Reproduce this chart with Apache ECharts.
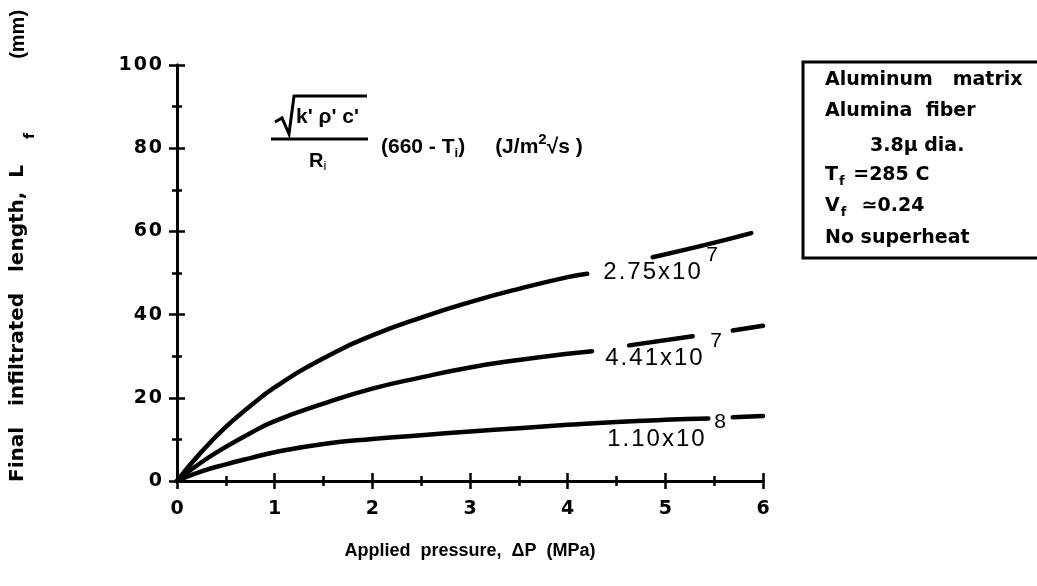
<!DOCTYPE html>
<html>
<head>
<meta charset="utf-8">
<script src="https://cdn.jsdelivr.net/npm/echarts@6/dist/echarts.min.js"></script>
<style>
  html, body { margin: 0; padding: 0; background: #fff; }
  #chart { width: 1037px; height: 586px; }
</style>
</head>
<body>
<div id="chart"></div>
<script>
// curves: [pressure MPa, length mm]
const curve275a = [[0,0],[0.25,7],[0.5,13],[0.75,18],[1,22.5],[1.5,29.5],[2,35],[2.5,39.3],[3,43],[3.5,46.2],[4,49],[4.2,49.8]];
const curve275b = [[4.87,53.8],[5.4,56.7],[5.88,59.6]];
const curve441a = [[0,0],[0.25,4.5],[0.5,8.2],[0.75,11.5],[1,14.4],[1.5,18.6],[2,22.2],[2.5,24.9],[3,27.3],[3.5,29.1],[4,30.6],[4.25,31.2]];
const curve441b = [[4.63,32.6],[5.28,34.8]];
const curve441c = [[5.69,36.2],[6.0,37.3]];
const curve110a = [[0,0],[0.25,2.3],[0.5,4.0],[0.75,5.5],[1,6.9],[1.5,8.9],[2,10.1],[2.5,11.0],[3,11.9],[3.5,12.7],[4,13.5],[4.5,14.2],[5,14.7],[5.44,15.0]];
const curve110b = [[5.69,15.3],[6.0,15.6]];

const curveLabels = ['2.75x10', '4.41x10', '1.10x10'];
const curveExps = ['7', '7', '8'];
const labelAnchors = [[4.365, 50.2], [4.385, 29.5], [4.405, 10.1]];

const legendLines = [
  '{t|Aluminum   matrix}',
  '{t|Alumina  fiber}',
  '{t|3.8\u00b5 dia.}',
  '{t|T}{s|f}{t| =285 C}',
  '{t|V}{s|f}{t|  \u22430.24}',
  '{t|No superheat}'
];

const hair = s => String(s).split('').join('\u200a');

const chart = echarts.init(document.getElementById('chart'));

const lineSeries = (data) => ({
  type: 'line',
  data: data,
  smooth: 0.5,
  showSymbol: false,
  symbol: 'none',
  lineStyle: { color: '#000', width: 4.5, cap: 'round', join: 'round' },
  silent: true
});

const sans = 'Liberation Sans';
const wide = 'DejaVu Sans';

const tickAxis = {
  axisLine: { show: true, lineStyle: { color: '#000', width: 3 } },
  axisTick: { show: true, inside: true, length: 8, lineStyle: { color: '#000', width: 2.5 } },
  minorTick: { show: true, splitNumber: 2, length: 5, lineStyle: { color: '#000', width: 2.5 } },
  splitLine: { show: false }
};

chart.setOption({
  animation: false,
  backgroundColor: '#fff',
  grid: { left: 177, right: 274, top: 65, bottom: 105 },
  xAxis: [
    Object.assign({
      type: 'value', min: 0, max: 6, interval: 1, position: 'bottom',
      axisLabel: { color: '#000', fontFamily: wide, fontWeight: 'bold', fontSize: 19, margin: 19 },
      name: 'Applied  pressure,  \u0394P  (MPa)',
      nameLocation: 'middle', nameGap: 61,
      nameTextStyle: { color: '#000', fontFamily: sans, fontWeight: 'bold', fontSize: 18 }
    }, tickAxis),
    Object.assign({
      type: 'value', min: 0, max: 6, interval: 1, position: 'top',
      axisLabel: { show: false }
    }, tickAxis)
  ],
  yAxis: [
    Object.assign({
      type: 'value', min: 0, max: 100, interval: 20, position: 'left',
      axisLabel: { color: '#000', fontFamily: wide, fontWeight: 'bold', fontSize: 19, margin: 15,
        formatter: v => hair(v) }
    }, tickAxis),
    Object.assign({
      type: 'value', min: 0, max: 100, interval: 20, position: 'right',
      axisLabel: { show: false }
    }, tickAxis)
  ],
  series: [curve275a, curve275b, curve441a, curve441b, curve441c, curve110a, curve110b].map(lineSeries)
});

// curve labels placed via data coordinates
const labelEls = [];
labelAnchors.forEach((p, i) => {
  const px = chart.convertToPixel({ xAxisIndex: 0, yAxisIndex: 0 }, p);
  labelEls.push({
    type: 'text', x: px[0], y: px[1],
    style: { text: hair(curveLabels[i]), fontFamily: sans, fontSize: 24, fill: '#000',
      align: 'left', verticalAlign: 'middle' }
  });
  labelEls.push({
    type: 'text', x: px[0] + 103 + i * 2, y: px[1] - 17,
    style: { text: curveExps[i], fontFamily: sans, fontSize: 21, fill: '#000',
      align: 'left', verticalAlign: 'middle' }
  });
});

const legendY = [80, 111, 146, 175, 206, 238];

chart.setOption({
  graphic: labelEls.concat([
    // y axis title, reading upwards
    { type: 'text', x: 18, y: 482, rotation: Math.PI / 2,
      style: { text: '{a|Final   infiltrated   length,  L}{b|f}{c|(mm)}', align: 'left', verticalAlign: 'middle',
        rich: {
          a: { fontFamily: wide, fontWeight: 'bold', fontSize: 20, fill: '#000' },
          b: { fontFamily: wide, fontWeight: 'bold', fontSize: 14, fill: '#000', padding: [24, 74, 0, 26] },
          c: { fontFamily: sans, fontWeight: 'bold', fontSize: 20, fill: '#000' }
        } } },
    // formula annotation
    { type: 'polyline', shape: { points: [[275, 122], [282, 118], [289, 134], [294, 96], [367, 96]] },
      style: { stroke: '#000', lineWidth: 3, fill: null } },
    { type: 'text', x: 296, y: 117,
      style: { text: "k' \u03c1' c'", fontFamily: sans, fontWeight: 'bold', fontSize: 21, fill: '#000', verticalAlign: 'middle' } },
    { type: 'line', shape: { x1: 271, y1: 139, x2: 368, y2: 139 }, style: { stroke: '#000', lineWidth: 3 } },
    { type: 'text', x: 309, y: 161,
      style: { text: '{r|R}{i|i}', verticalAlign: 'middle',
        rich: { r: { fontFamily: sans, fontWeight: 'bold', fontSize: 20, fill: '#000' },
                i: { fontFamily: sans, fontSize: 13, fill: '#000', padding: [10, 0, 0, 0] } } } },
    { type: 'text', x: 381, y: 147,
      style: { text: '{a|(660 - T}{i|i}{a|)}{g| }{a|(J/m}{s|2}{a|\u221as )}', verticalAlign: 'middle',
        rich: { a: { fontFamily: sans, fontWeight: 'bold', fontSize: 21, fill: '#000' },
                g: { fontFamily: sans, fontSize: 21, width: 30 },
                i: { fontFamily: sans, fontWeight: 'bold', fontSize: 13, fill: '#000', padding: [12, 0, 0, 0] },
                s: { fontFamily: sans, fontWeight: 'bold', fontSize: 15, fill: '#000', padding: [0, 0, 14, 0] } } } },
    // info box
    { type: 'rect', shape: { x: 803, y: 62, width: 240, height: 196 },
      style: { stroke: '#000', lineWidth: 3, fill: '#fff' } }
  ]).concat(legendLines.map((t, i) => ({
    type: 'text', x: i === 2 ? 870 : 825, y: legendY[i],
    style: { text: t, verticalAlign: 'middle',
      rich: {
        t: { fontFamily: wide, fontWeight: 'bold', fontSize: 19, fill: '#000' },
        s: { fontFamily: wide, fontWeight: 'bold', fontSize: 13, fill: '#000', padding: [14, 2, 0, 1] }
      } }
  })))
});

window.addEventListener('resize', () => chart.resize());
</script>
</body>
</html>
